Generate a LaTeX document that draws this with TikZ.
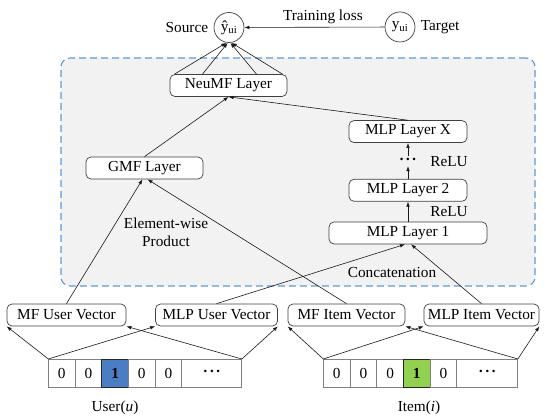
\documentclass[tikz,border=0pt]{standalone}
\usepackage{fontspec}
\setmainfont{Liberation Serif}
\usepackage{tikz}
\usetikzlibrary{positioning,arrows.meta,calc}
\definecolor{ncfBlue}{HTML}{5B9BD5}
\definecolor{ncfPanel}{HTML}{F2F2F2}
\definecolor{ncfUser}{HTML}{4A7DC4}
\definecolor{ncfItem}{HTML}{92D050}
\newcommand{\ncfsize}{\fontsize{15.3}{18}\selectfont}
\newcommand{\ncfdots}{{\bfseries\kern0.5pt·\kern1.2pt·\kern1.2pt·\kern0.5pt}}
\tikzset{
  layer/.style={draw=black!75,fill=white,rounded corners=5pt,line width=0.7pt,
    minimum height=22pt,minimum width=117pt,inner sep=2pt},
  cell/.style={draw=black!50,fill=white,line width=0.8pt,minimum height=28pt,
    minimum width=26.7pt,inner sep=0pt,outer sep=0pt},
  hotcell/.style={cell,draw=black!85,font={\ncfsize\bfseries}},
  score/.style={circle,draw=black!75,line width=0.7pt,minimum size=30pt,inner sep=0pt},
  panel/.style={draw=ncfBlue,fill=ncfPanel,dash pattern=on 7pt off 4pt,
    rounded corners=9pt,line width=1.1pt,inner sep=0pt},
  arrow/.style={-{Latex[length=5pt,width=3.6pt]},line width=0.6pt,draw=black!90}
}

\begin{document}
\begin{tikzpicture}[x=1pt,y=1pt,font=\ncfsize]
  \useasboundingbox (0,0) rectangle (550,417);

  % grey panel behind the two towers
  \node[panel,minimum width=474pt,minimum height=228pt] (panel) at (298,245) {};

  % prediction and target
  \node[score] (yhat) at (229,389.5) {ŷ\textsubscript{ui}};
  \node[score] (ytrue) at (400,390) {y\textsubscript{ui}};
  \node[left=2pt of yhat] (srclbl) {Source};
  \node[right=2pt of ytrue] (tgtlbl) {Target};
  \draw[arrow] (ytrue) -- node[above,pos=0.44] {Training loss} (yhat);

  % layers
  \node[layer] (neumf) at (228.5,331.5) {NeuMF Layer};
  \node[layer] (gmf) at (144.5,249) {GMF Layer};
  \node[layer,minimum width=158pt] (mlp1) at (408,184) {MLP Layer 1};
  \node[layer,minimum width=118pt,above=20pt of mlp1] (mlp2) {MLP Layer 2};
  \node[layer,minimum width=118pt,above=36pt of mlp2] (mlpx) {MLP Layer X};
  \node[inner sep=0pt,minimum height=10pt] (dots) at ($(mlp2.north)!0.5!(mlpx.south)$) {\raisebox{-2pt}{\ncfdots}};
  \node (relu1) at (449,255) {ReLU};
  \node (relu2) at (449,205) {ReLU};
  \node[align=center] (ewlbl) at (166,185) {Element-wise\\Product};
  \node (catlbl) at (392,144) {Concatenation};

  % embedding vectors
  \node[layer,minimum width=119pt] (mfuser) at (66.5,102) {MF User Vector};
  \node[layer,minimum width=122pt] (mlpuser) at (216.5,102) {MLP User Vector};
  \node[layer] (mfitem) at (346.5,102) {MF Item Vector};
  \node[layer,minimum width=115pt] (mlpitem) at (481.5,102) {MLP Item Vector};

  % one-hot inputs
  \node[cell] (u1) at (61.7,44) {0};
  \node[cell,right=0pt of u1] (u2) {0};
  \node[hotcell,fill=ncfUser,right=0pt of u2] (u3) {1};
  \node[cell,right=0pt of u3] (u4) {0};
  \node[cell,right=0pt of u4] (u5) {0};
  \node[cell,minimum width=60pt,right=0pt of u5] (u6) {\ncfdots};
  \node (userlbl) at (115,9) {User(\textit{u})};

  \node[cell] (i1) at (336.7,44) {0};
  \node[cell,right=0pt of i1] (i2) {0};
  \node[cell,right=0pt of i2] (i3) {0};
  \node[hotcell,fill=ncfItem,right=0pt of i3] (i4) {1};
  \node[cell,right=0pt of i4] (i5) {0};
  \node[cell,minimum width=61pt,right=0pt of i5] (i6) {\ncfdots};
  \node (itemlbl) at (419,9) {Item(\textit{i})};

  % connectors
  \foreach \dx in {-54,-26,28,54}
    \draw[arrow] ($(neumf.north)+(\dx,0)$) -- ($(yhat.south)+(\dx/20,0)$);
  \draw[arrow] (gmf.north) -- (neumf.south);
  \draw[arrow] (mlpx.north) -- (neumf.south);
  \draw[arrow] (dots.north) -- (mlpx.south);
  \draw[arrow] (mlp2.north) -- (dots.south);
  \draw[arrow] (mlp1.north) -- (mlp2.south);
  \draw[arrow] (mfuser.north) -- ($(gmf.south)+(-2,0)$);
  \draw[arrow] (mfitem.north) -- ($(gmf.south)+(3,0)$);
  \draw[arrow] (mlpuser.north) -- ($(mlp1.south)+(-3,0)$);
  \draw[arrow] (mlpitem.north) -- ($(mlp1.south)+(3,0)$);

  \draw[arrow] (u1.north west) -- (mfuser.south west);
  \draw[arrow] (u1.north west) -- (mlpuser.south west);
  \draw[arrow] (u6.north east) -- (mfuser.south east);
  \draw[arrow] (u6.north east) -- (mlpuser.south east);
  \draw[arrow] (i1.north west) -- (mfitem.south west);
  \draw[arrow] (i1.north west) -- (mlpitem.south west);
  \draw[arrow] (i6.north east) -- (mfitem.south east);
  \draw[arrow] (i6.north east) -- (mlpitem.south east);
\end{tikzpicture}
\end{document}
